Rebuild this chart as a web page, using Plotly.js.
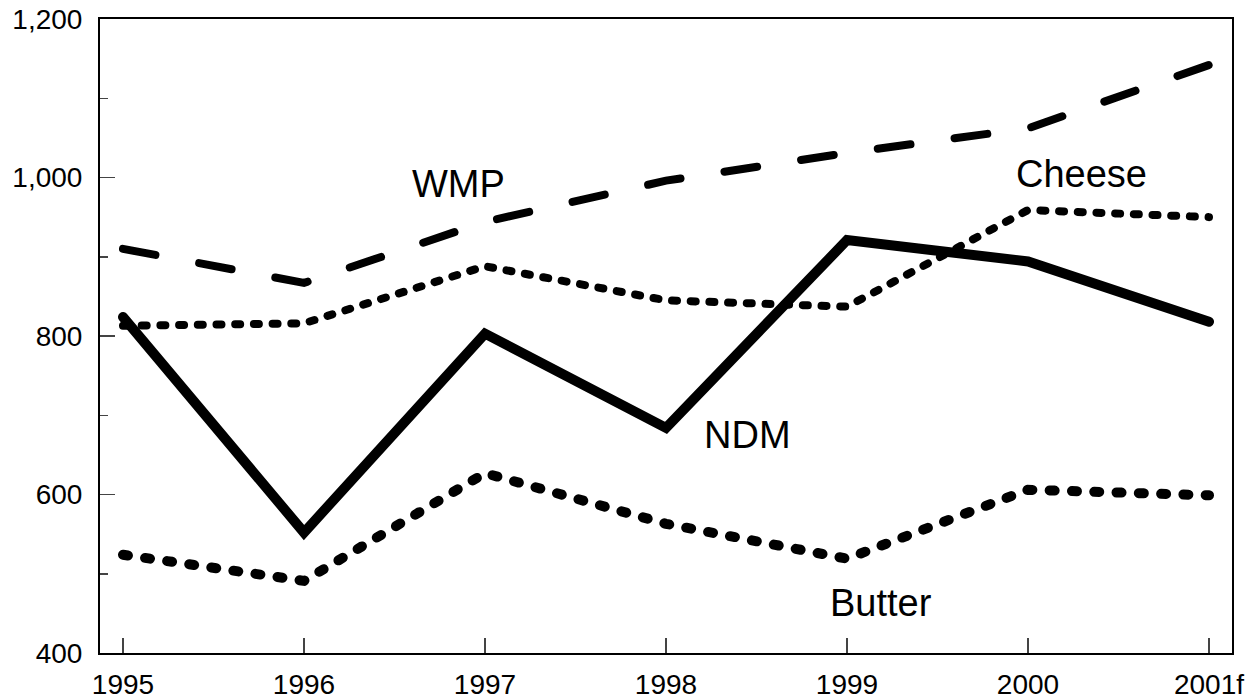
<!DOCTYPE html>
<html>
<head>
<meta charset="utf-8">
<script src="https://cdn.plot.ly/plotly-3.0.1.min.js"></script>
<style>
html,body{margin:0;padding:0;background:#fff;}
#chart{width:1253px;height:700px;}
#chart path.js-line{stroke-linecap:round !important;stroke-linejoin:miter !important;}
</style>
</head>
<body>
<div id="chart"></div>
<script>
var years = ['1995','1996','1997','1998','1999','2000','2001f'];
var wmp    = [910, 867, 944, 996, 1031, 1062, 1142];
var cheese = [813, 816, 888, 845, 837, 959, 950];
var ndm    = [824, 552, 803, 684, 921, 894, 818];
var butter = [524, 491, 627, 563, 519, 606, 599];
var seriesLabels = ['WMP', 'Cheese', 'NDM', 'Butter'];

var xIdx = years.map(function(_, i){ return i; });

var traces = [
  {x: xIdx, y: wmp, mode: 'lines', name: 'WMP',
   line: {color: '#000', width: 8, dash: '33px,44.5px'}},
  {x: xIdx, y: cheese, mode: 'lines', name: 'Cheese',
   line: {color: '#000', width: 8, dash: '5px,13.7px'}},
  {x: xIdx, y: ndm, mode: 'lines', name: 'NDM',
   line: {color: '#000', width: 10}},
  {x: xIdx, y: butter, mode: 'lines', name: 'Butter',
   line: {color: '#000', width: 10, dash: '5px,17.3px'}}
];

var labelPos = [[1.856, 992], [5.293, 1004], [3.448, 675], [4.188, 463]];
var annotations = seriesLabels.map(function(t, i){
  return {x: labelPos[i][0], y: labelPos[i][1], xref: 'x', yref: 'y', text: t,
          showarrow: false, font: {family: 'Liberation Sans, Arial, sans-serif', size: 38, color: '#000'}};
});

var layout = {
  width: 1253, height: 700,
  margin: {l: 100, r: 21, t: 19, b: 47, pad: 0},
  paper_bgcolor: '#fff', plot_bgcolor: '#fff',
  showlegend: false,
  font: {family: 'Liberation Sans, Arial, sans-serif', size: 28, color: '#000'},
  xaxis: {
    range: [-0.127, 6.127], tickmode: 'array', tickvals: xIdx, ticktext: years,
    ticks: 'inside', ticklen: 15, tickwidth: 1.5, tickcolor: '#444',
    ticklabelstandoff: 5,
    showline: true, linecolor: '#000', linewidth: 2, mirror: true,
    showgrid: false, zeroline: false, fixedrange: true,
    tickfont: {size: 28}
  },
  yaxis: {
    range: [400, 1200], tickmode: 'linear', tick0: 400, dtick: 200,
    tickformat: ',d',
    ticks: 'inside', ticklen: 15, tickwidth: 1.5, tickcolor: '#444',
    ticklabelstandoff: 10,
    minor: {dtick: 100, ticks: 'inside', ticklen: 8, tickwidth: 1.5, tickcolor: '#444', showgrid: false},
    showline: true, linecolor: '#000', linewidth: 2, mirror: true,
    showgrid: false, zeroline: false, fixedrange: true,
    tickfont: {size: 28}
  },
  annotations: annotations
};

Plotly.newPlot('chart', traces, layout, {displayModeBar: false, staticPlot: true}).then(function(){
  document.querySelectorAll('#chart path.js-line').forEach(function(p){
    p.style.setProperty('stroke-linecap', 'round', 'important');
  });
});
</script>
</body>
</html>
